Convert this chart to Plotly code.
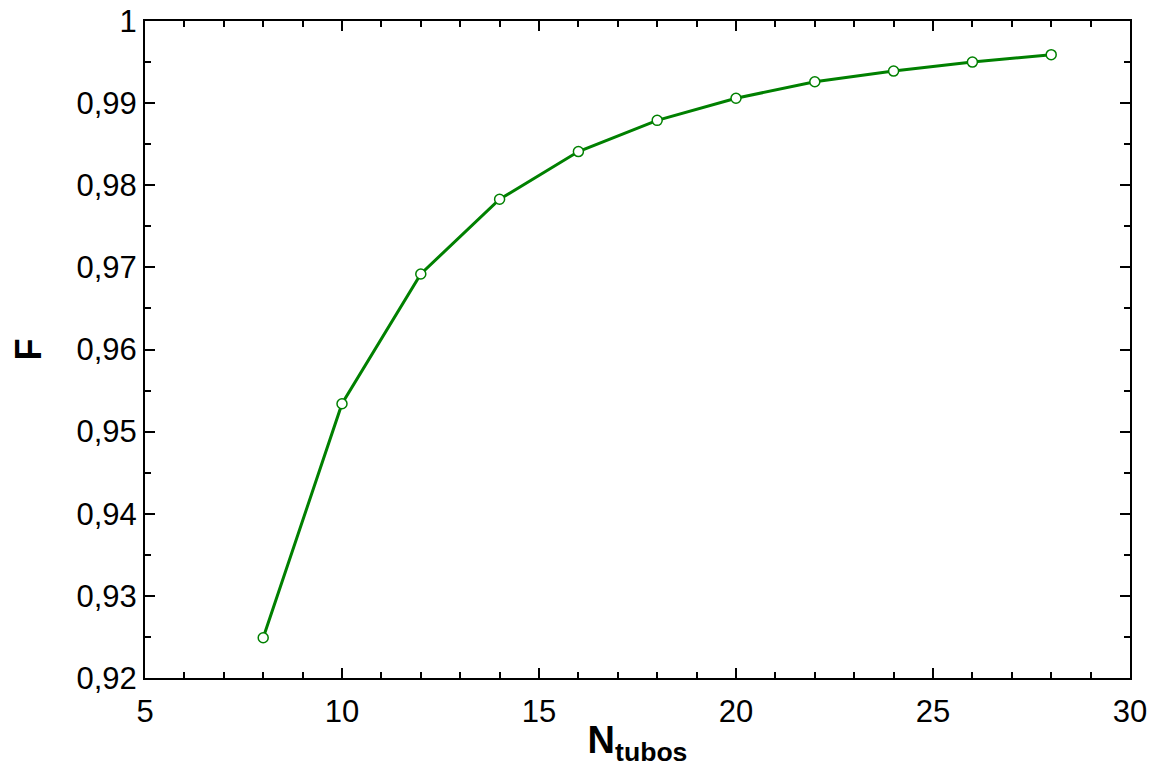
import plotly.graph_objects as go

n_tubos = [8, 10, 12, 14, 16, 18, 20, 22, 24, 26, 28]
f_vals = [0.9249, 0.9534, 0.9692, 0.9783, 0.9841, 0.9879, 0.9906, 0.9926, 0.9939, 0.9950, 0.9959]

y_tickvals = [0.92, 0.93, 0.94, 0.95, 0.96, 0.97, 0.98, 0.99, 1.0]
y_ticktext = ["0,92", "0,93", "0,94", "0,95", "0,96", "0,97", "0,98", "0,99", "1"]
x_tickvals = [5, 10, 15, 20, 25, 30]

fig = go.Figure()
fig.add_trace(go.Scatter(
    x=n_tubos, y=f_vals, mode="lines+markers",
    line=dict(color="#008000", width=3),
    marker=dict(symbol="circle", size=10, color="white",
                line=dict(color="#008000", width=1.5)),
    showlegend=False,
))

fam = "Liberation Sans, Arial, sans-serif"
font = dict(family=fam, size=31, color="black")
fig.update_layout(
    width=1150, height=759,
    margin=dict(l=137, r=28, t=13, b=89),
    paper_bgcolor="white", plot_bgcolor="white",
    font=font,
    xaxis=dict(
        range=[5, 30], tickvals=x_tickvals, showgrid=False, zeroline=False,
        showline=True, linecolor="black", linewidth=2, mirror="allticks",
        ticks="inside", ticklen=10, tickwidth=2, tickcolor="black",
        minor=dict(dtick=1, ticks="inside", ticklen=6, tickwidth=2, tickcolor="black"),
        tickfont=font, ticklabelstandoff=5, automargin=False, ticklabeloverflow="allow",
        title=dict(text="<b>N<sub>tubos</sub></b>", font=dict(family=fam, size=38, color="black"), standoff=4),
    ),
    yaxis=dict(
        range=[0.92, 1.0], tickvals=y_tickvals, ticktext=y_ticktext, showgrid=False, zeroline=False,
        showline=True, linecolor="black", linewidth=2, mirror="allticks",
        ticks="inside", ticklen=10, tickwidth=2, tickcolor="black",
        minor=dict(dtick=0.005, ticks="inside", ticklen=6, tickwidth=2, tickcolor="black"),
        tickfont=font, automargin=False, ticklabeloverflow="allow",
        title=dict(text="<b>F</b>", font=dict(family=fam, size=36, color="black"), standoff=28),
    ),
)
fig.write_html("out.html")
